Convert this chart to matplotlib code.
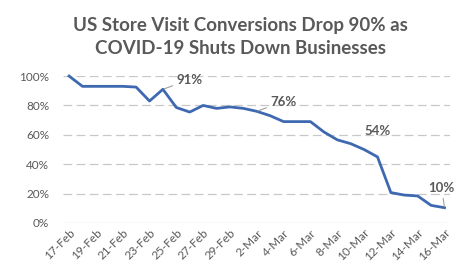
import matplotlib.pyplot as plt
import numpy as np

# daily values 17-Feb .. 16-Mar 2020
dias = ["17-Feb", "18-Feb", "19-Feb", "20-Feb", "21-Feb", "22-Feb", "23-Feb",
        "24-Feb", "25-Feb", "26-Feb", "27-Feb", "28-Feb", "29-Feb", "1-Mar",
        "2-Mar", "3-Mar", "4-Mar", "5-Mar", "6-Mar", "7-Mar", "8-Mar", "9-Mar",
        "10-Mar", "11-Mar", "12-Mar", "13-Mar", "14-Mar", "15-Mar", "16-Mar"]
conversion = [100, 93, 93, 93, 93, 92.5, 83, 91, 78.6, 75.5, 80, 78, 79, 78,
              76, 73, 69, 69, 69, 62, 56.6, 54, 50, 45, 20.7, 19, 18.4, 12, 10.4]

etiquetas = {"24-Feb": "91%", "2-Mar": "76%", "9-Mar": "54%", "16-Mar": "10%"}

gris = "#595959"
plt.rcParams["font.family"] = ["Lato", "DejaVu Sans"]

fig = plt.figure(figsize=(4.6, 2.65), dpi=100)
ax = fig.add_axes([0.137, 0.1585, 0.841, 0.5545])

x = np.arange(len(dias))
ax.plot(x, conversion, color="#3e69b1", lw=2.0, clip_on=False, zorder=3,
        solid_joinstyle="round")

ax.set_ylim(0, 100)
ax.set_xlim(-0.45, len(dias) - 0.6)
ax.set_yticks(range(0, 101, 20))
ax.set_yticklabels([f"{v}%" for v in range(0, 101, 20)])
for v in range(20, 101, 20):
    ax.axhline(v, color="#c8c8c8", lw=0.9, ls=(0, (7, 3.5)), zorder=1)
ax.axhline(0, color="#d0d0d0", lw=0.9, zorder=1)

ax.set_xticks(x[::2])
ax.set_xticklabels(dias[::2], rotation=45, ha="right", rotation_mode="anchor")

for s in ax.spines.values():
    s.set_visible(False)
ax.tick_params(length=0, colors=gris, labelsize=8.5)
ax.tick_params(axis="y", pad=10)
ax.tick_params(axis="x", pad=3, labelsize=8.5)

# etiquetas de datos
offsets = {"91%": (10, 7), "76%": (10, 7), "54%": (10, 9), "10%": (-2, 14)}
for dia, txt in etiquetas.items():
    i = dias.index(dia)
    dx, dy = offsets[txt]
    ax.annotate(txt, xy=(i, conversion[i]), xytext=(dx, dy),
                textcoords="offset points", fontsize=9.5, fontweight="bold",
                color=gris, ha="left" if txt != "10%" else "center", va="center",
                arrowprops=None if txt == "54%" else
                dict(arrowstyle="-", color="#a0a0a0", lw=0.8,
                     shrinkA=1, shrinkB=1))

fig.text(0.522, 0.86, "US Store Visit Conversions Drop 90% as\nCOVID-19 Shuts Down Businesses",
         ha="center", va="center", fontsize=13.5, fontweight="bold",
         color=gris, linespacing=1.4)

fig.savefig("out.png", dpi=100)
